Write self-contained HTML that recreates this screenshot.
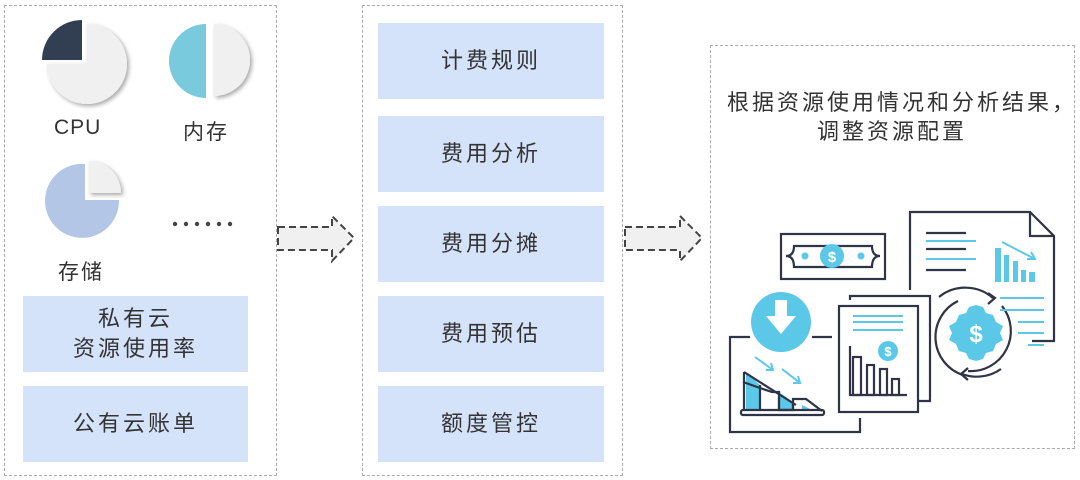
<!DOCTYPE html>
<html><head><meta charset="utf-8"><style>
*{margin:0;padding:0;box-sizing:border-box}
body{width:1080px;height:480px;background:#fff;position:relative;overflow:hidden;font-family:"Liberation Sans","Noto Sans CJK SC",sans-serif;color:#333}
.dash{position:absolute;border:1.5px dashed #aaa}
.b{position:absolute;background:#d5e3fa;display:flex;align-items:center;justify-content:center;text-align:center;font-size:22px;letter-spacing:3px;line-height:30px;color:#333}
.t{position:absolute;font-size:22px;letter-spacing:2px;color:#333}
</style></head><body>
<div class="dash" style="left:4px;top:5px;width:273px;height:471px"></div>
<div class="dash" style="left:362px;top:5px;width:261px;height:471px"></div>
<div class="dash" style="left:710px;top:45px;width:365px;height:404px"></div>

<svg style="position:absolute;left:0;top:0" width="1080" height="480">
<defs><filter id="sh" x="-30%" y="-30%" width="160%" height="160%"><feDropShadow dx="2" dy="2" stdDeviation="2" flood-color="#000" flood-opacity="0.35"/></filter></defs>
<path d="M87,24 A40,40 0 1 1 47,64 L87,64 Z" fill="#f0f0f0" filter="url(#sh)"/>
<path d="M82,20 L82,60 L42,60 A40,40 0 0 1 82,20 Z" fill="#323e52"/>
<path d="M214,24 A36,36 0 0 1 214,96 Z" fill="#f0f0f0" filter="url(#sh)"/>
<path d="M206,24 L206,98 A37,37 0 0 1 206,24 Z" fill="#79cadd"/>
<path d="M89,161 A32,32 0 0 1 121,193 L89,193 Z" fill="#f0f0f0" filter="url(#sh)"/>
<path d="M85,164 L85,200 L119,200 A37,37 0 1 1 85,164 Z" fill="#b3c6e6"/>
<g fill="#444"><circle cx="175" cy="224" r="2.2"/><circle cx="186" cy="224" r="2.2"/><circle cx="197" cy="224" r="2.2"/><circle cx="208" cy="224" r="2.2"/><circle cx="219" cy="224" r="2.2"/><circle cx="230" cy="224" r="2.2"/></g>
<path d="M278,227 L332,227 L332,216 L354,238 L332,261 L332,250 L278,250 Z" fill="#f0f0f0" stroke="#444" stroke-width="2" stroke-dasharray="7,4"/>
<path d="M625,227 L680,227 L680,216 L702,238 L680,261 L680,250 L625,250 Z" fill="#f0f0f0" stroke="#444" stroke-width="2" stroke-dasharray="7,4"/>
<g stroke="#2f3447" stroke-width="2.2" fill="none">
<path d="M910,290 L910,212 L1030,212 L1054,236 L1054,341 L1032,341"/>
<path d="M1030,212 L1030,236 L1054,236"/>
<rect x="781" y="234" width="104" height="45"/>
<path d="M794,246 L872,246 Q872,256 880,256 Q872,256 872,267 L794,267 Q794,256 786,256 Q794,256 794,246 Z"/>
<path d="M850,300 L850,296 L930,296 L930,401 L918,401"/>
<rect x="839" y="306" width="79" height="106" fill="#fff"/>
<path d="M750,337 L730,337 L730,432 L860,432 L860,418"/>
<path d="M812,337 L832,337"/>
<path d="M850,346 L850,395 L907,395"/>
<path d="M958,301 A40,40 0 0 0 963,375" />
<path d="M1002,306 A40,40 0 0 1 968,371"/>
<path d="M939,297 A42,42 0 0 1 993,298"/>
<path d="M1001,369 A42,42 0 0 1 962,374"/>
<path d="M988,293 L995,298 L988,304"/>
<path d="M968,368 L961,374 L968,380"/>
<path d="M926,233 L966,233 M926,249 L966,249 M926,270 L966,270"/>
</g>
<g fill="#5bc8e8">
<circle cx="832" cy="256" r="12"/><circle cx="805" cy="256" r="3.5"/><circle cx="861" cy="256" r="3.5"/>
<circle cx="781" cy="322" r="30"/>
<circle cx="888" cy="351" r="10"/>
<rect x="995" y="248" width="6" height="34"/><rect x="1004" y="255" width="5" height="27"/><rect x="1013" y="261" width="5" height="21"/><rect x="1021" y="270" width="5" height="12"/><rect x="1029" y="272" width="6" height="10"/>
<path d="M746,372 L746,410 L760,410 L760,385 Z"/><path d="M779,392 L779,410 L793,410 L793,402 Z"/><path d="M802,405 L802,410 L812,410 Z"/>
<polygon points="976,305 983,307 986,313 993,315 996,322 1003,326 1000,333 1003,340 996,344 993,351 986,353 983,359 976,361 969,359 966,353 959,351 956,344 949,340 952,333 949,326 956,322 959,315 966,313 969,307"/>
</g>
<g stroke="#5bc8e8" stroke-width="2" fill="none">
<path d="M926,241 L976,241 M926,259 L976,259 M1000,298 L1044,298 M1000,310 L1044,310 M1018,322 L1044,322 M1018,333 L1044,333 M1028,345 L1044,345"/>
<path d="M853,316 L903,316 M853,322 L903,322 M853,330 L903,330"/>
<path d="M1002,242 L1035,259 M1027,259 L1035,259 L1031,252"/>
<path d="M755,357 L773,370 M766,370 L773,370 L771,363"/>
<path d="M782,369 L800,383 M793,383 L800,383 L798,376"/>
</g>
<g stroke="#2f3447" stroke-width="2.2" fill="none">
<path d="M744,372 L744,410 M744,372 L796,405 M760,385 L760,410 M779,397 L779,410 M793,401 L793,410"/>
<path d="M743,382 L760,388 L772,392 L779,392 L779,410 L793,410 L793,399 L806,399 L822,411" />
<rect x="741" y="410" width="83" height="5" rx="2"/>
<rect x="853" y="357" width="8" height="38"/><rect x="867" y="365" width="7" height="30"/><rect x="880" y="369" width="7" height="26"/><rect x="892" y="379" width="7" height="16"/>
</g>
<g fill="#fff" font-family="Liberation Sans" font-weight="bold" text-anchor="middle">
<text x="832" y="262" font-size="15">$</text>
<text x="888" y="356" font-size="13">$</text>
<text x="976" y="342" font-size="24">$</text>
</g>
<path d="M775,300 L787,300 L787,316 L796,316 L781,334 L766,316 L775,316 Z" fill="#fff"/>
</svg>

<div class="t" style="left:54px;top:116px;font-size:21px;letter-spacing:1px">CPU</div>
<div class="t" style="left:183px;top:116px;font-size:21px">内存</div>
<div class="t" style="left:58px;top:256px;font-size:21px">存储</div>

<div class="b" style="left:23px;top:296px;width:225px;height:76px">私有云<br>资源使用率</div>
<div class="b" style="left:23px;top:386px;width:225px;height:76px">公有云账单</div>

<div class="b" style="left:378px;top:23px;width:226px;height:76px">计费规则</div>
<div class="b" style="left:378px;top:116px;width:226px;height:76px">费用分析</div>
<div class="b" style="left:378px;top:206px;width:226px;height:76px">费用分摊</div>
<div class="b" style="left:378px;top:296px;width:226px;height:76px">费用预估</div>
<div class="b" style="left:378px;top:386px;width:226px;height:76px">额度管控</div>

<div class="t" style="left:712px;top:88px;width:380px;text-align:center;font-size:22px;letter-spacing:3px;line-height:29px">根据资源使用情况和分析结果，<br><span style="margin-right:20px">调整资源配置</span></div>
</body></html>
